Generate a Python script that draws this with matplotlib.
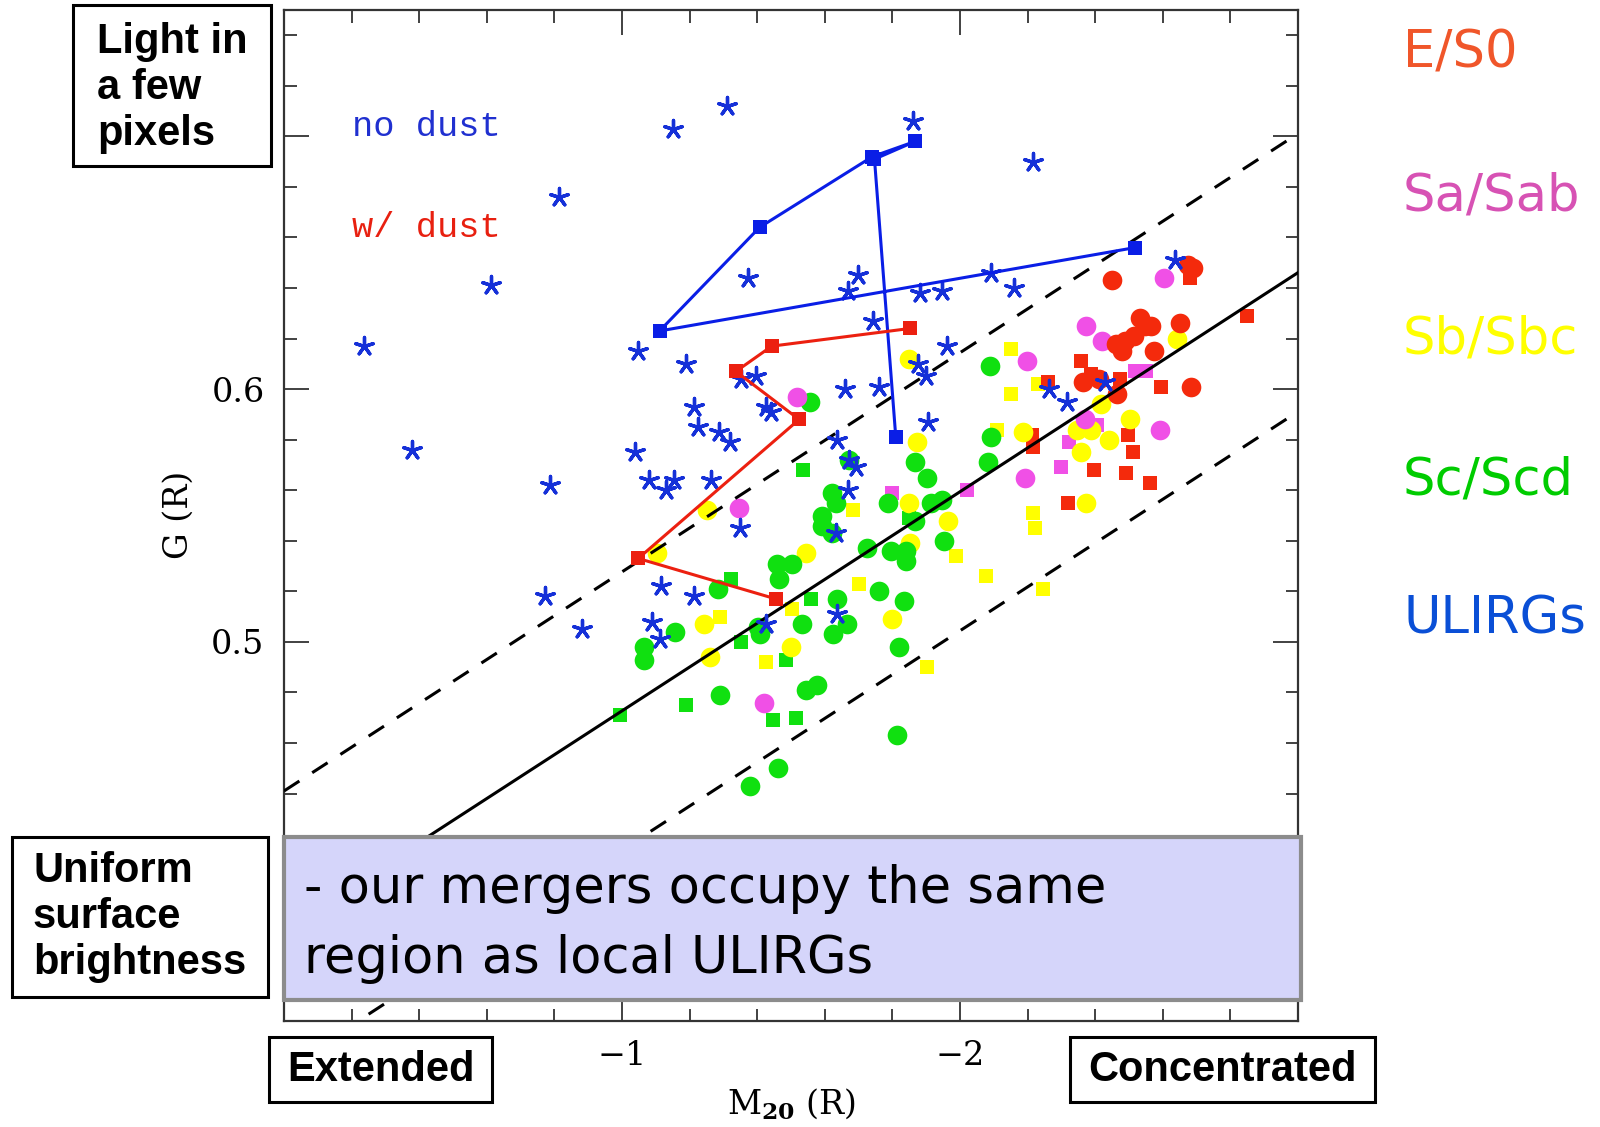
import matplotlib
matplotlib.use('Agg')
import matplotlib.pyplot as plt
from matplotlib.patches import Rectangle
from matplotlib.ticker import MultipleLocator, FixedLocator
import numpy as np

# ---------------- data (M20, G) ----------------
ulirg_m20 = [-0.238, -0.380, -0.611, -0.813, -0.786, -0.771, -0.883, -1.151, -1.310, -1.861,
             -2.217, -1.373, -1.699, -1.669, -1.883, -1.946, -2.093, -2.160, -1.744, -1.190,
             -1.048, -1.395, -1.352, -1.440, -1.425, -1.214, -1.226, -1.286, -1.319, -1.660,
             -1.759, -1.961, -1.877, -1.898, -1.904, -1.636, -1.672, -1.693, -1.669, -1.633,
             -1.039, -1.081, -1.130, -1.154, -1.262, -1.349, -1.114, -1.214, -1.090, -1.111,
             -1.425, -1.636, -2.262, -2.316, -2.428, -2.636]
ulirg_g = [0.617, 0.576, 0.641, 0.676, 0.562, 0.518, 0.505, 0.703, 0.712, 0.706,
           0.690, 0.644, 0.645, 0.639, 0.638, 0.639, 0.646, 0.640, 0.627, 0.610,
           0.615, 0.605, 0.604, 0.591, 0.593, 0.593, 0.585, 0.583, 0.579, 0.600,
           0.601, 0.617, 0.610, 0.605, 0.587, 0.580, 0.572, 0.569, 0.560, 0.543,
           0.575, 0.564, 0.560, 0.564, 0.564, 0.545, 0.522, 0.518, 0.508, 0.501,
           0.507, 0.511, 0.600, 0.595, 0.603, 0.651]

e_circ_m20 = [-2.449, -2.675, -2.690, -2.533, -2.566, -2.651, -2.461, -2.488, -2.479, -2.548,
              -2.575, -2.364, -2.410, -2.464, -2.684, -2.515]
e_circ_g = [0.643, 0.649, 0.648, 0.628, 0.625, 0.626, 0.618, 0.619, 0.615, 0.625,
            0.615, 0.603, 0.604, 0.598, 0.601, 0.621]
e_sq_m20 = [-2.681, -2.849, -2.358, -2.389, -2.473, -2.596, -2.259, -2.214, -2.217, -2.497,
            -2.512, -2.395, -2.491, -2.563, -2.319]
e_sq_g = [0.644, 0.629, 0.611, 0.606, 0.604, 0.601, 0.603, 0.582, 0.577, 0.582,
          0.575, 0.568, 0.567, 0.563, 0.555]

sa_circ_m20 = [-2.373, -2.419, -2.605, -2.199, -2.370, -2.593, -2.193, -1.518, -1.346, -1.419]
sa_circ_g = [0.625, 0.619, 0.644, 0.611, 0.588, 0.584, 0.565, 0.597, 0.553, 0.476]
sa_sq_m20 = [-2.518, -2.551, -2.404, -2.322, -2.298, -2.021, -1.798]
sa_sq_g = [0.607, 0.607, 0.586, 0.579, 0.569, 0.560, 0.559]

sb_circ_m20 = [-2.642, -2.416, -2.503, -2.187, -2.346, -2.389, -2.358, -2.440, -2.373, -1.849,
               -1.873, -1.849, -1.964, -1.852, -1.250, -1.105, -1.545, -1.798, -1.244, -1.500,
               -1.259]
sb_circ_g = [0.620, 0.594, 0.588, 0.583, 0.584, 0.584, 0.575, 0.580, 0.555, 0.612,
             0.579, 0.555, 0.548, 0.539, 0.552, 0.535, 0.535, 0.509, 0.507, 0.498,
             0.494]
sb_sq_m20 = [-2.151, -2.151, -2.232, -2.108, -2.217, -2.223, -1.988, -2.078, -2.247, -1.684,
             -1.702, -1.503, -1.289, -1.425, -1.901]
sb_sq_g = [0.616, 0.598, 0.602, 0.584, 0.551, 0.545, 0.534, 0.526, 0.521, 0.552,
           0.523, 0.513, 0.510, 0.492, 0.490]

sc_circ_m20 = [-1.557, -2.090, -2.093, -2.084, -1.867, -1.901, -1.672, -1.620, -1.633, -1.593,
               -1.593, -1.620, -1.786, -1.913, -1.946, -1.867, -1.952, -1.726, -1.795, -1.840,
               -1.840, -1.458, -1.503, -1.464, -1.283, -1.759, -1.834, -1.636, -1.157, -1.407,
               -1.401, -1.533, -1.623, -1.666, -1.066, -1.066, -1.819, -1.545, -1.578, -1.289,
               -1.813, -1.461, -1.380]
sc_circ_g = [0.595, 0.609, 0.581, 0.571, 0.571, 0.565, 0.572, 0.559, 0.555, 0.550,
             0.546, 0.543, 0.555, 0.555, 0.556, 0.548, 0.540, 0.537, 0.536, 0.536,
             0.532, 0.531, 0.531, 0.525, 0.521, 0.520, 0.516, 0.517, 0.504, 0.503,
             0.506, 0.507, 0.503, 0.507, 0.498, 0.493, 0.498, 0.481, 0.483, 0.479,
             0.463, 0.450, 0.443]
sc_sq_m20 = [-1.536, -1.849, -1.322, -1.560, -1.352, -1.485, -1.190, -1.446, -1.515, -0.994]
sc_sq_g = [0.568, 0.549, 0.525, 0.517, 0.500, 0.493, 0.475, 0.469, 0.470, 0.471]

# merger simulation tracks
nodust_m20 = [-2.518, -1.111, -1.407, -1.741, -1.867, -1.747, -1.810]
nodust_g = [0.656, 0.623, 0.664, 0.692, 0.698, 0.691, 0.581]
dust_m20 = [-1.852, -1.443, -1.337, -1.524, -1.048, -1.455]
dust_g = [0.624, 0.617, 0.607, 0.588, 0.533, 0.517]

# classification lines G = slope*M20 + intercept
line_slope = -0.0867
line_solid = 0.386
line_dashed = [0.441, 0.331]

x_tick_vals = [-1, -2]
x_tick_labels = ['\u22121', '\u22122']
y_tick_vals = [0.5, 0.6]
y_tick_labels = ['0.5', '0.6']

legend_labels = ['E/S0', 'Sa/Sab', 'Sb/Sbc', 'Sc/Scd', 'ULIRGs']
legend_colors = ['#f0562a', '#d752b4', '#ffff00', '#00cc00', '#0a4fd6']

# ---------------- figure ----------------
W, H = 1600, 1127
fig = plt.figure(figsize=(16, 11.27), dpi=100)
plt.rcParams['mathtext.fontset'] = 'dejavuserif'


def fx(px):
    return px / W


def fy(py):
    return 1 - py / H


ax = fig.add_axes([fx(284), fy(1021), fx(1298) - fx(284), fy(10) - fy(1021)])
ax.set_xlim(0, -3)
ax.set_ylim(0.35, 0.75)

RED = '#f42a0c'
MAG = '#f050e6'
YEL = '#ffff00'
GRN = '#10e010'
BLU = '#1530d8'

sc_kw = dict(linewidths=0, zorder=3)
ax.scatter(sb_sq_m20, sb_sq_g, marker='s', s=110, color=YEL, **sc_kw)
ax.scatter(sc_sq_m20, sc_sq_g, marker='s', s=110, color=GRN, **sc_kw)
ax.scatter(sa_sq_m20, sa_sq_g, marker='s', s=110, color=MAG, **sc_kw)
ax.scatter(e_sq_m20, e_sq_g, marker='s', s=110, color=RED, **sc_kw)
ax.scatter(sb_circ_m20, sb_circ_g, marker='o', s=200, color=YEL, **sc_kw)
ax.scatter(sc_circ_m20, sc_circ_g, marker='o', s=200, color=GRN, **sc_kw)
ax.scatter(sa_circ_m20, sa_circ_g, marker='o', s=200, color=MAG, **sc_kw)
ax.scatter(e_circ_m20, e_circ_g, marker='o', s=200, color=RED, **sc_kw)

mx = np.array([0.0, -3.0])
ax.plot(mx, line_slope * mx + line_solid, color='black', lw=2.2, zorder=4)
for c in line_dashed:
    ax.plot(mx, line_slope * mx + c, color='black', lw=2.2, dashes=(6, 5), zorder=4)

ax.scatter(ulirg_m20, ulirg_g, marker=(5, 2, 0), s=170, color=BLU, linewidths=2.4, zorder=5)

ax.plot(nodust_m20, nodust_g, color='#0a1ee6', lw=2.2, marker='s', ms=10,
        markeredgewidth=0, zorder=6)
ax.plot(dust_m20, dust_g, color='#ec2010', lw=2.2, marker='s', ms=10,
        markeredgewidth=0, zorder=6)

ax.text(-0.202, 0.704, 'no dust', color='#2030d0', fontsize=25.5,
        family='Liberation Mono', va='center', ha='left', zorder=6)
ax.text(-0.202, 0.664, 'w/ dust', color='#e82010', fontsize=25.5,
        family='Liberation Mono', va='center', ha='left', zorder=6)

# ticks
ax.xaxis.set_major_locator(FixedLocator([0, -1, -2, -3]))
ax.xaxis.set_minor_locator(MultipleLocator(0.2))
ax.yaxis.set_major_locator(FixedLocator([0.4, 0.5, 0.6, 0.7]))
ax.yaxis.set_minor_locator(MultipleLocator(0.02))
ax.xaxis.set_major_formatter(plt.FuncFormatter(
    lambda v, p: dict(zip(x_tick_vals, x_tick_labels)).get(int(round(v)), '')
    if abs(v - round(v)) < 1e-6 else ''))
ax.yaxis.set_major_formatter(plt.FuncFormatter(
    lambda v, p: dict(zip([round(t, 2) for t in y_tick_vals], y_tick_labels)).get(round(v, 2), '')))
ax.tick_params(which='both', direction='in', top=True, right=True, width=1.3, color='#333333')
ax.tick_params(which='major', length=18, labelsize=24, pad=14)
ax.tick_params(which='minor', length=9)
for lab in ax.get_xticklabels() + ax.get_yticklabels():
    lab.set_family('DejaVu Serif')
for sp in ax.spines.values():
    sp.set_linewidth(1.6)
    sp.set_color('#333333')

ax.text(0.5, -0.082, r'M$_{\mathbf{20}}$ (R)', transform=ax.transAxes, ha='center',
        va='center', fontsize=24, family='DejaVu Serif')
ax.text(-0.104, 0.501, 'G (R)', transform=ax.transAxes, ha='center', va='center',
        rotation=90, fontsize=24, family='DejaVu Serif')

# ---------------- overlay boxes ----------------
def box(x0, y0, x1, y1, fc='white', ec='black', lw=2.2):
    r = Rectangle((fx(x0), fy(y1)), fx(x1) - fx(x0), fy(y0) - fy(y1),
                  transform=fig.transFigure, facecolor=fc, edgecolor=ec,
                  linewidth=lw, zorder=10)
    fig.add_artist(r)


def ftext(x, y, s, **kw):
    fig.text(fx(x), fy(y), s, zorder=11, **kw)


bold = dict(family='Liberation Sans', weight='bold', fontsize=30)
box(73, 5, 271, 166)
ftext(97, 88, 'Light in\na few\npixels', va='center', ha='left', linespacing=1.19, **bold)
box(12, 837, 268, 997)
ftext(33, 917, 'Uniform\nsurface\nbrightness', va='center', ha='left', linespacing=1.19, **bold)
box(269, 1037, 492, 1102)
ftext(381, 1070, 'Extended', va='center', ha='center', **bold)
box(1070, 1037, 1375, 1102)
ftext(1223, 1070, 'Concentrated', va='center', ha='center', **bold)

box(284, 837, 1301, 1000, fc='#d5d5fa', ec='#8c8c8c', lw=3)
ftext(304, 889, '- our mergers occupy the same', va='center', ha='left',
      fontsize=36.7, family='DejaVu Sans')
ftext(304, 959, 'region as local ULIRGs', va='center', ha='left',
      fontsize=36.7, family='DejaVu Sans')

leg_y = [54, 197, 340, 481, 620]
for lab, col, yy in zip(legend_labels, legend_colors, leg_y):
    ftext(1403, yy, lab, color=col, va='center', ha='left', fontsize=36.8,
          family='DejaVu Sans')

fig.savefig('out.png', dpi=100, facecolor='white')
